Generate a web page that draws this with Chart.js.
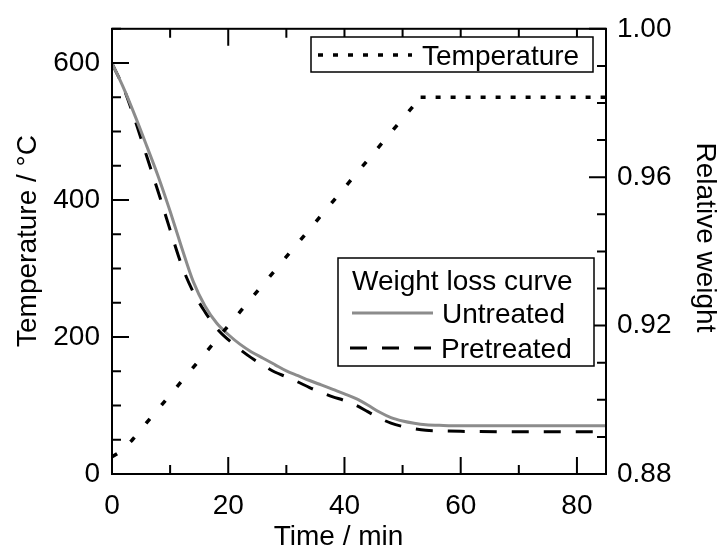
<!DOCTYPE html>
<html><head><meta charset="utf-8">
<script src="https://cdn.jsdelivr.net/npm/chart.js@4/dist/chart.umd.min.js"></script>
<style>html,body{margin:0;padding:0;background:#fff}#wrap{width:724px;height:553px}</style>
</head><body><div id="wrap"><canvas id="c" width="724" height="553"></canvas></div>
<script>
// ---- data ----
const tempTime = [0, 1.5, 3.4, 53.1, 85];
const tempValues = [25, 33, 49, 550, 550];

const untreatedTime = [0, 2, 4, 6, 8, 10, 12, 14, 16, 18, 20, 22, 24, 26, 28, 30, 32, 34, 36, 38, 40, 42, 44, 46, 48, 50, 52, 54, 57, 60, 70, 85];
const untreatedWeight = [0.9907, 0.9840, 0.9764, 0.9683, 0.9600, 0.9508, 0.9410, 0.9318, 0.9253, 0.9207, 0.9176, 0.9150, 0.9129, 0.9112, 0.9095, 0.9078, 0.9065, 0.9052, 0.9040, 0.9028, 0.9016, 0.9003, 0.8986, 0.8967, 0.8952, 0.8943, 0.8937, 0.8933, 0.8931, 0.8930, 0.8930, 0.8930];

const pretreatedTime = [0, 2, 4, 6, 8, 10, 12, 14, 16, 18, 20, 22, 24, 26, 28, 30, 32, 34, 36, 38, 40, 42, 44, 46, 48, 50, 52, 54, 57, 60, 70, 85];
const pretreatedWeight = [0.9907, 0.9840, 0.9752, 0.9655, 0.9558, 0.9458, 0.9362, 0.9290, 0.9237, 0.9193, 0.9162, 0.9136, 0.9113, 0.9093, 0.9075, 0.9062, 0.9048, 0.9033, 0.9020, 0.9008, 0.8998, 0.8985, 0.8968, 0.8951, 0.8937, 0.8928, 0.8922, 0.8918, 0.8916, 0.8915, 0.8914, 0.8914];

const xTicks = [0, 20, 40, 60, 80];
const tempTicks = [0, 200, 400, 600];
const weightTicks = [0.88, 0.92, 0.96, 1.00];

const xTitle = 'Time / min';
const leftTitle = 'Temperature / °C';
const rightTitle = 'Relative weight';
const legendTempLabel = 'Temperature';
const legendWeightTitle = 'Weight loss curve';
const legendUntreated = 'Untreated';
const legendPretreated = 'Pretreated';

// ---- styles ----
const FONT = '"Liberation Sans", Arial, Helvetica, sans-serif';
const FS = 28;
const GRAY = '#8c8c8c';
const flatDash = [5, 10];
const rampDash = [6, 18];
const pretreatDash = [17, 15];

const frameTicks = {
  id: 'frameTicks',
  afterDraw(chart) {
    const {ctx, chartArea: a, scales} = chart;
    ctx.save();
    ctx.strokeStyle = '#000';
    ctx.lineWidth = 2;
    ctx.setLineDash([]);
    ctx.strokeRect(a.left, a.top, a.right - a.left, a.bottom - a.top);
    const MAJ = 17, MIN = 9;
    ctx.beginPath();
    const xs = scales.x;
    for (let v = 0; v <= 85; v += 10) {
      const px = xs.getPixelForValue(v);
      const L = (v % 20 === 0) ? MAJ : MIN;
      ctx.moveTo(px, a.bottom); ctx.lineTo(px, a.bottom - L);
      ctx.moveTo(px, a.top); ctx.lineTo(px, a.top + L);
    }
    const ys = scales.y;
    for (let v = 0; v <= 650; v += 50) {
      const py = ys.getPixelForValue(v);
      const L = (v % 200 === 0) ? MAJ : MIN;
      ctx.moveTo(a.left, py); ctx.lineTo(a.left + L, py);
    }
    const y2 = scales.y2;
    for (let i = 0; i <= 12; i++) {
      const v = 0.88 + i * 0.01;
      const py = y2.getPixelForValue(v);
      const L = (i % 4 === 0) ? MAJ : MIN;
      ctx.moveTo(a.right, py); ctx.lineTo(a.right - L, py);
    }
    ctx.stroke();

    // axis titles
    ctx.fillStyle = '#000';
    ctx.font = FS + 'px ' + FONT;
    ctx.textAlign = 'center';
    ctx.textBaseline = 'alphabetic';
    ctx.fillText(xTitle, 338.5, 545);
    ctx.save(); ctx.translate(36, 241); ctx.rotate(-Math.PI / 2); ctx.fillText(leftTitle, 0, 0); ctx.restore();
    ctx.save(); ctx.translate(697, 237.5); ctx.rotate(Math.PI / 2); ctx.fillText(rightTitle, 0, 0); ctx.restore();

    // legend 1
    ctx.textAlign = 'left';
    ctx.lineWidth = 1.5;
    ctx.fillStyle = '#fff';
    ctx.fillRect(311, 37, 282, 35);
    ctx.strokeRect(311, 37, 282, 35);
    ctx.beginPath(); ctx.lineWidth = 3.5; ctx.setLineDash(flatDash);
    ctx.moveTo(318, 55); ctx.lineTo(412, 55); ctx.stroke();
    ctx.setLineDash([]);
    ctx.fillStyle = '#000';
    ctx.fillText(legendTempLabel, 422, 65);

    // legend 2
    ctx.lineWidth = 1.5;
    ctx.fillStyle = '#fff';
    ctx.fillRect(338, 258, 256, 108);
    ctx.strokeRect(338, 258, 256, 108);
    ctx.fillStyle = '#000';
    ctx.fillText(legendWeightTitle, 352, 290);
    ctx.beginPath(); ctx.lineWidth = 3; ctx.strokeStyle = GRAY;
    ctx.moveTo(352, 313); ctx.lineTo(433, 313); ctx.stroke();
    ctx.fillText(legendUntreated, 442, 323);
    ctx.beginPath(); ctx.strokeStyle = '#000'; ctx.setLineDash(pretreatDash);
    ctx.moveTo(350, 348); ctx.lineTo(433, 348); ctx.stroke();
    ctx.setLineDash([]);
    ctx.fillText(legendPretreated, 441, 358);
    ctx.restore();
  }
};

Chart.defaults.font.family = FONT;
Chart.defaults.color = '#000';

new Chart(document.getElementById('c'), {
  type: 'line',
  data: {
    datasets: [
      {
        label: legendTempLabel, yAxisID: 'y',
        data: tempTime.map((t, i) => ({x: t, y: tempValues[i]})),
        borderColor: '#000', borderWidth: 3.5, pointRadius: 0, tension: 0,
        borderDash: rampDash,
        segment: { borderDash: c => tempValues[c.p0DataIndex] === tempValues[c.p1DataIndex] ? flatDash : rampDash }
      },
      {
        label: legendUntreated, yAxisID: 'y2',
        data: untreatedTime.map((t, i) => ({x: t, y: untreatedWeight[i]})),
        borderColor: GRAY, borderWidth: 3, pointRadius: 0, cubicInterpolationMode: 'monotone'
      },
      {
        label: legendPretreated, yAxisID: 'y2',
        data: pretreatedTime.map((t, i) => ({x: t, y: pretreatedWeight[i]})),
        borderColor: '#000', borderWidth: 3, pointRadius: 0, borderDash: pretreatDash, cubicInterpolationMode: 'monotone'
      }
    ]
  },
  options: {
    responsive: false, animation: false, devicePixelRatio: 1,
    layout: { padding: { top: 23, left: 0, right: 0, bottom: 0 } },
    plugins: { legend: { display: false }, tooltip: { enabled: false } },
    scales: {
      x: {
        type: 'linear', position: 'bottom', min: 0, max: 85,
        grid: { display: false, drawTicks: false }, border: { display: false },
        ticks: { padding: 15, font: { size: FS }, maxRotation: 0, autoSkip: false, includeBounds: false },
        afterBuildTicks: s => { s.ticks = xTicks.map(v => ({value: v})); },
        afterFit: s => { s.height = 79; }
      },
      y: {
        type: 'linear', position: 'left', min: 0, max: 650,
        grid: { display: false, drawTicks: false }, border: { display: false },
        ticks: { padding: 12, font: { size: FS }, autoSkip: false, includeBounds: false },
        afterBuildTicks: s => { s.ticks = tempTicks.map(v => ({value: v})); },
        afterFit: s => { s.width = 112; }
      },
      y2: {
        type: 'linear', position: 'right', min: 0.88, max: 1.0,
        grid: { display: false, drawTicks: false }, border: { display: false },
        ticks: { padding: 11, font: { size: FS }, autoSkip: false, callback: v => Number(v).toFixed(2) },
        afterBuildTicks: s => { s.ticks = weightTicks.map(v => ({value: v})); },
        afterFit: s => { s.width = 118; }
      }
    }
  },
  plugins: [frameTicks]
});
</script></body></html>
